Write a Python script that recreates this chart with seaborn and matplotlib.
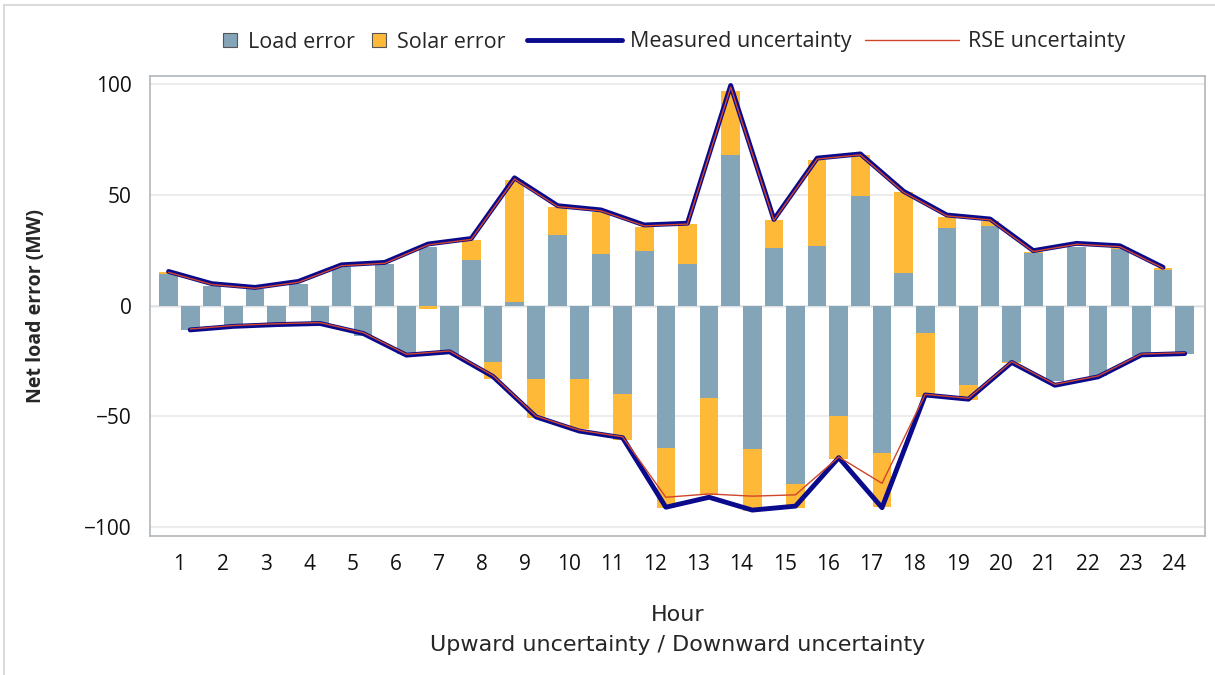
import seaborn as sns
import matplotlib.pyplot as plt
import numpy as np
import pandas as pd
from matplotlib.lines import Line2D
from matplotlib.patches import Patch

# hours and read-off values (MW)
hours = np.arange(1, 25)

load_up = [14.5, 9.0, 7.5, 9.8, 17.3, 18.8, 26.7, 20.7, 1.8, 32.1, 23.4, 24.9,
           18.9, 67.9, 26.1, 27.1, 49.8, 14.8, 35.1, 36.2, 23.7, 26.4, 25.6, 16.3]
solar_up = [0.6, 0.0, 0.0, 0.0, 0.0, 0.0, -1.3, 9.0, 55.1, 12.4, 18.8, 10.5,
            18.1, 29.1, 12.8, 38.8, 18.1, 36.5, 4.9, 2.3, 0.4, 0.3, 0.8, 0.6]
load_dn = [-11.0, -8.6, -8.3, -8.2, -13.8, -21.9, -21.9, -25.3, -33.2, -32.9, -40.0, -64.4,
           -41.8, -64.9, -80.4, -49.8, -66.4, -12.1, -35.7, -25.2, -34.2, -31.7, -22.6, -21.9]
solar_dn = [0.0, 0.0, 0.0, 0.0, 0.0, 0.0, 0.0, -7.9, -17.3, -22.9, -20.8, -26.9,
            -43.7, -27.9, -10.9, -19.6, -24.6, -28.9, -7.0, -0.8, 0.0, 0.0, 0.0, 0.0]

measured_up = [15.5, 10.0, 8.3, 11.0, 18.5, 19.6, 27.9, 30.4, 57.8, 45.2, 43.3, 36.5,
               37.3, 99.5, 39.0, 66.7, 68.6, 51.7, 41.0, 39.2, 24.9, 28.2, 27.1, 17.4]
rse_up = [15.1, 9.6, 7.9, 10.6, 18.1, 19.2, 27.5, 30.0, 57.3, 44.8, 42.9, 36.1,
          36.9, 98.8, 38.6, 66.3, 68.2, 51.3, 40.6, 38.8, 24.5, 27.8, 26.7, 17.0]
measured_dn = [-10.9, -9.3, -8.5, -8.0, -12.5, -22.3, -20.8, -31.9, -50.2, -56.6, -59.6, -91.0,
               -86.5, -92.3, -90.5, -68.6, -91.2, -40.3, -42.2, -25.6, -35.9, -32.1, -22.2, -21.6]
rse_dn = [-10.5, -8.9, -8.1, -7.6, -12.1, -21.9, -20.4, -31.5, -49.8, -56.2, -59.2, -86.5,
          -85.0, -86.0, -85.4, -68.3, -80.2, -40.0, -41.8, -25.2, -35.5, -31.7, -21.8, -21.2]

load_col = '#84A4B7'
solar_col = '#FFB938'
navy = '#0A0A8C'
red = '#D0452C'

sns.set_theme(style='white')
plt.rcParams['font.family'] = ['Open Sans', 'DejaVu Sans']

fig, ax = plt.subplots(figsize=(12.15, 6.75), dpi=100)
fig.subplots_adjust(left=150/1215, right=1205/1215, top=1-76/675, bottom=1-536/675)


def outer(load, solar):
    # solar stacks on the load bar when both go the same way, else sits on its own from zero
    return [l + s if l * s > 0 else s for l, s in zip(load, solar)]


df = pd.DataFrame({
    'hour': hours,
    'load_up': load_up, 'solar_up': solar_up,
    'load_dn': load_dn, 'solar_dn': solar_dn,
})
df['pos_up'] = df['hour'] - 0.25
df['pos_dn'] = df['hour'] + 0.25
df['outer_up'] = outer(load_up, solar_up)
df['outer_dn'] = outer(load_dn, solar_dn)

for side in ['up', 'dn']:
    sns.barplot(data=df, x='pos_' + side, y='outer_' + side, native_scale=True,
                color=solar_col, saturation=1, width=0.43, errorbar=None,
                linewidth=0, ax=ax)
    sns.barplot(data=df, x='pos_' + side, y='load_' + side, native_scale=True,
                color=load_col, saturation=1, width=0.43, errorbar=None,
                linewidth=0, ax=ax)

# uncertainty lines
sns.lineplot(x=df['pos_up'], y=measured_up, color=navy, linewidth=3.5, ax=ax)
sns.lineplot(x=df['pos_dn'], y=measured_dn, color=navy, linewidth=3.5, ax=ax)
sns.lineplot(x=df['pos_up'], y=rse_up, color=red, linewidth=1.0, ax=ax)
sns.lineplot(x=df['pos_dn'], y=rse_dn, color=red, linewidth=1.0, ax=ax)

ax.set_xlim(0.32, 24.72)
ax.set_ylim(-104, 103.8)
ax.set_xticks(hours)
ax.set_xticklabels([str(h) for h in hours])
ax.set_yticks([-100, -50, 0, 50, 100])
ax.yaxis.grid(True, color='#e9e9e9', linewidth=1.2)
ax.set_axisbelow(True)
ax.axhline(0, color='#b5bcc0', linewidth=1.0, zorder=0.5)

for s in ax.spines.values():
    s.set_color('#b5bcc0')
    s.set_linewidth(1.3)
ax.tick_params(axis='both', direction='out', length=8, width=1.5, color='#c3c9cc',
               labelsize=15, labelcolor='#111111', pad=5)

ax.set_ylabel('Net load error (MW)', fontsize=14, fontweight='bold')
ax.yaxis.set_label_coords(-0.099, 0.5)
ax.set_xlabel('Hour\nUpward uncertainty / Downward uncertainty', fontsize=16,
              family=['DejaVu Sans'], linespacing=1.6)
ax.xaxis.set_label_coords(0.5, -0.15)

# legend: two pieces so the square swatches stay short while the lines stay long
box_handles = [
    Patch(facecolor=load_col, edgecolor='#555555', linewidth=0.8),
    Patch(facecolor=solar_col, edgecolor='#555555', linewidth=0.8),
]
line_handles = [
    Line2D([], [], color=navy, linewidth=3.5),
    Line2D([], [], color=red, linewidth=1.0),
]
fig.legend(box_handles, ['Load error', 'Solar error'], loc='center',
           bbox_to_anchor=(364/1215, 1 - 42/675), ncol=2, frameon=False, fontsize=15.5,
           handlelength=0.65, handleheight=0.65, handletextpad=0.5, columnspacing=0.8)
fig.legend(line_handles, ['Measured uncertainty', 'RSE uncertainty'], loc='center',
           bbox_to_anchor=(826/1215, 1 - 42/675), ncol=2, frameon=False, fontsize=15.5,
           handlelength=4.4, handletextpad=0.4, columnspacing=0.6)

# light frame on the left and top edges of the picture
fig.add_artist(Line2D([4/1215, 4/1215], [0, 1 - 5/675], transform=fig.transFigure,
                      color='#d3d3d3', linewidth=1.2))
fig.add_artist(Line2D([4/1215, 1], [1 - 5/675, 1 - 5/675], transform=fig.transFigure,
                      color='#d3d3d3', linewidth=1.2))

fig.savefig('out.png', dpi=100)
